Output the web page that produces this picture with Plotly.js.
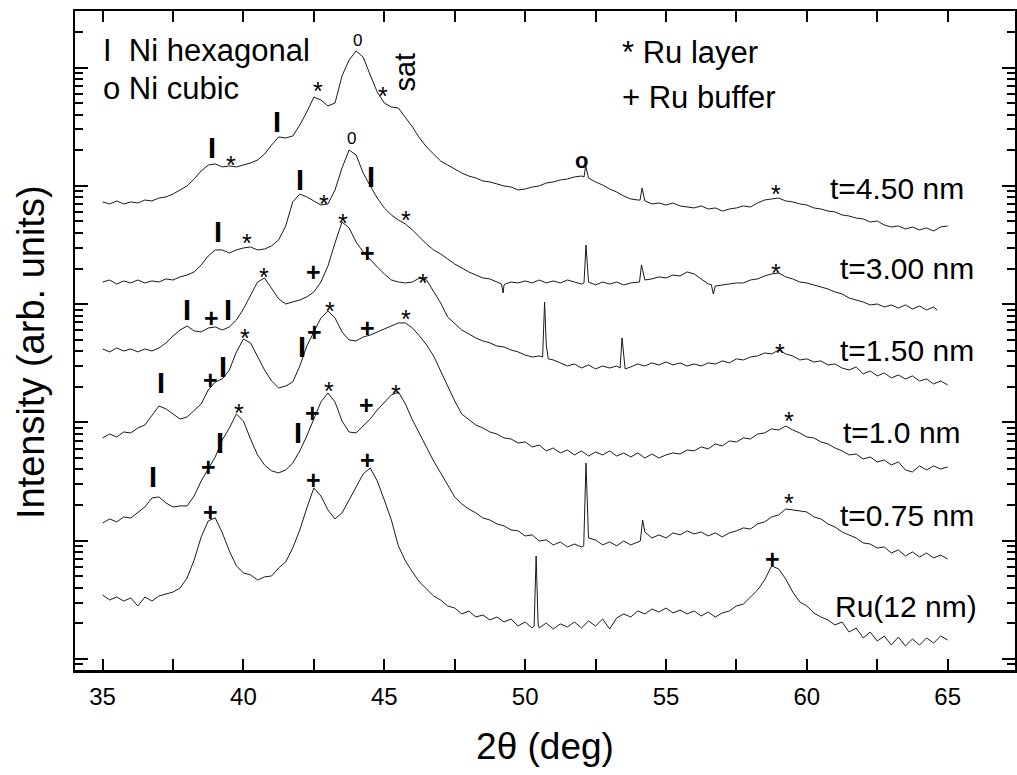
<!DOCTYPE html>
<html><head><meta charset="utf-8">
<script src="https://cdn.plot.ly/plotly-3.0.1.min.js"></script>
<style>html,body{margin:0;padding:0;background:#fff}</style>
</head><body><div id="chart" style="width:1017px;height:775px"></div>
<script>
// 2θ grid (deg)
const twoTheta = [
35,35.25,35.5,35.75,36,36.25,36.5,36.75,37,37.25,37.5,37.75,38,38.25,38.5,38.75,39,39.25,39.5,39.75,
40,40.25,40.5,40.75,41,41.25,41.5,41.75,42,42.25,42.5,42.75,43,43.25,43.5,43.75,44,44.25,44.5,44.75,
45,45.25,45.5,45.75,46,46.25,46.5,46.75,47,47.25,47.5,47.75,48,48.25,48.5,48.75,49,49.25,49.5,49.75,
50,50.25,50.5,50.75,51,51.25,51.5,51.75,52,52.25,52.5,52.75,53,53.25,53.5,53.75,54,54.25,54.5,54.75,
55,55.25,55.5,55.75,56,56.25,56.5,56.75,57,57.25,57.5,57.75,58,58.25,58.5,58.75,59,59.25,59.5,59.75,
60,60.25,60.5,60.75,61,61.25,61.5,61.75,62,62.25,62.5,62.75,63,63.25,63.5,63.75,64,64.25,64.5,64.75,
65];

// log10 of intensity (arb. units)
const logI_t450 = [
3.864,3.847,3.872,3.847,3.864,3.855,3.880,3.872,3.897,3.906,3.931,3.965,3.999,4.058,4.126,4.176,4.185,4.160,4.168,4.160,
4.176,4.193,4.218,4.269,4.345,4.413,4.405,4.421,4.514,4.624,4.751,4.726,4.675,4.700,4.929,5.064,5.140,5.089,4.937,4.793,
4.700,4.667,4.658,4.582,4.498,4.405,4.328,4.269,4.210,4.176,4.142,4.109,4.083,4.066,4.041,4.033,4.016,3.999,3.990,3.965,
3.973,3.990,3.999,4.024,4.033,4.050,4.058,4.075,4.083,4.066,4.033,4.007,3.973,3.948,3.914,3.889,3.880,3.872,3.847,3.855,
3.838,3.855,3.830,3.821,3.813,3.830,3.804,3.813,3.787,3.804,3.813,3.830,3.821,3.855,3.880,3.889,3.897,3.872,3.864,3.847,
3.838,3.813,3.804,3.787,3.779,3.754,3.745,3.728,3.720,3.694,3.703,3.669,3.652,3.661,3.635,3.652,3.627,3.644,3.618,3.652,
3.661];
const logI_t300 = [
3.187,3.204,3.170,3.196,3.179,3.204,3.179,3.196,3.187,3.213,3.204,3.230,3.246,3.272,3.331,3.407,3.458,3.458,3.432,3.458,
3.475,3.483,3.458,3.466,3.492,3.543,3.661,3.864,3.931,3.906,3.872,3.838,3.847,3.965,4.151,4.303,4.261,4.109,3.999,3.897,
3.813,3.754,3.711,3.677,3.627,3.567,3.508,3.458,3.424,3.382,3.339,3.306,3.272,3.246,3.221,3.213,3.187,3.162,3.187,3.179,
3.196,3.179,3.204,3.179,3.196,3.179,3.204,3.187,3.170,3.187,3.162,3.187,3.170,3.187,3.162,3.179,3.187,3.204,3.213,3.230,
3.221,3.246,3.238,3.272,3.255,3.213,3.170,3.153,3.162,3.170,3.179,3.179,3.204,3.213,3.238,3.255,3.263,3.230,3.213,3.187,
3.179,3.162,3.145,3.128,3.103,3.086,3.052,3.035,3.018,2.993,3.001,2.976,2.993,2.967,2.993,2.959,2.984,2.950,2.976,null,
null];
const logI_t150 = [
2.621,2.596,2.629,2.604,2.621,2.596,2.621,2.604,2.629,2.672,2.731,2.781,2.815,2.773,2.765,2.798,2.807,2.781,2.807,2.866,
2.959,3.069,3.187,3.221,3.128,3.044,3.001,3.018,3.035,3.061,3.103,3.187,3.323,3.517,3.694,3.644,3.525,3.441,3.373,3.314,
3.255,3.204,3.187,3.179,3.187,3.221,3.204,3.111,3.010,2.891,2.832,2.781,2.748,2.714,2.689,2.672,2.646,2.638,2.612,2.596,
2.570,2.553,2.562,2.655,2.528,2.503,2.477,2.494,2.460,2.486,2.452,2.477,2.460,2.477,2.570,2.469,2.494,2.477,2.503,2.486,
2.511,2.486,2.503,2.477,2.494,2.477,2.503,2.494,2.520,2.503,2.537,2.528,2.553,2.562,2.587,2.579,2.612,2.579,2.562,2.528,
2.537,2.511,2.520,2.486,2.494,2.460,2.443,2.469,2.410,2.435,2.393,2.418,2.376,2.401,2.367,2.393,2.350,2.367,2.325,2.350,
2.317];
const logI_t100 = [
1.869,1.902,1.877,1.919,1.911,1.953,1.978,2.054,2.139,2.114,2.071,2.029,2.046,2.105,2.156,2.274,2.342,2.367,2.443,2.596,
2.705,2.672,2.562,2.443,2.350,2.291,2.308,2.342,2.477,2.646,2.765,2.883,2.942,2.883,2.765,2.697,2.689,2.722,2.739,2.765,
2.790,2.815,2.841,2.841,2.798,2.731,2.655,2.562,2.435,2.308,2.181,2.071,2.021,1.978,1.953,1.919,1.902,1.869,1.860,1.826,
1.835,1.793,1.809,1.759,1.784,1.742,1.767,1.725,1.759,1.716,1.750,1.725,1.759,1.716,1.742,1.708,1.742,1.699,1.733,1.699,
1.725,1.742,1.733,1.767,1.759,1.793,1.776,1.818,1.801,1.843,1.835,1.869,1.860,1.902,1.911,1.945,1.936,1.970,1.936,1.911,
1.877,1.869,1.835,1.818,1.784,1.759,1.725,1.733,1.691,1.708,1.666,1.682,1.640,1.666,1.598,1.581,1.632,1.598,1.632,1.606,
1.623];
const logI_t075 = [
1.150,1.184,1.159,1.201,1.192,1.235,1.285,1.361,1.370,1.319,1.285,1.294,1.294,1.378,1.505,1.607,1.708,1.852,1.953,2.071,
2.012,1.860,1.725,1.640,1.590,1.573,1.598,1.657,1.759,1.886,2.029,2.173,2.249,2.173,2.012,1.919,1.911,1.970,2.029,2.105,
2.173,2.232,2.257,2.156,2.021,1.902,1.792,1.674,1.573,1.471,1.370,1.310,1.268,1.235,1.192,1.175,1.142,1.125,1.091,1.083,
1.040,1.049,0.998,1.007,0.964,0.990,0.947,0.972,0.947,1.023,1.007,0.964,0.990,0.956,0.998,0.964,0.990,1.074,1.023,1.049,
1.023,1.066,1.049,1.083,1.057,1.074,1.040,1.066,1.032,1.066,1.083,1.108,1.099,1.142,1.159,1.201,1.218,1.268,1.260,1.251,
1.243,1.201,1.184,1.142,1.116,1.074,1.049,1.023,0.981,0.972,0.938,0.947,0.896,0.922,0.871,0.905,0.862,0.896,0.854,0.879,
0.845];
const logI_Ru12 = [
0.541,0.499,0.524,0.490,0.516,0.448,0.524,0.490,0.533,0.550,0.566,0.600,0.685,0.837,1.032,1.167,1.193,1.066,0.913,0.787,
0.727,0.711,0.668,0.694,0.702,0.770,0.820,0.939,1.091,1.277,1.446,1.378,1.260,1.184,1.235,1.344,1.454,1.564,1.615,1.505,
1.344,1.176,0.956,0.829,0.736,0.651,0.592,0.533,0.499,0.448,0.431,0.381,0.406,0.355,0.372,0.330,0.355,0.313,0.338,0.279,
0.313,0.262,0.262,0.304,0.254,0.296,0.271,0.313,0.262,0.321,0.279,0.338,0.254,0.347,0.381,0.355,0.406,0.381,0.423,0.397,
0.431,0.389,0.414,0.381,0.406,0.364,0.397,0.355,0.389,0.406,0.448,0.465,0.524,0.583,0.668,0.787,0.761,0.676,0.566,0.482,
0.448,0.389,0.355,0.330,0.288,0.313,0.228,0.262,0.178,0.228,0.152,0.194,0.118,0.186,0.110,0.169,0.118,0.178,0.135,0.194,
0.161];

// sharp lines / glitches (2θ, log10 I) that fall between grid points
const sharp_t450 = [[52.09,4.075],[52.15,4.168],[54.08,3.880],[54.15,3.981]];
const sharp_t300 = [[49.16,3.170],[49.22,3.094],[49.29,3.170],[52.09,3.179],[52.16,3.500],[54.06,3.187],[54.13,3.331],
  [56.61,3.165],[56.68,3.086],[64.63,2.950]];
const sharp_t150 = [[50.62,2.553],[50.69,3.018],[50.82,2.537],[53.37,2.460],[53.44,2.714],[53.55,2.452]];
const sharp_t100 = [];
const sharp_t075 = [[52.08,0.956],[52.16,1.657],[54.09,0.998],[54.17,1.175]];
const sharp_Ru12 = [[50.32,0.279],[50.39,0.871],[50.46,0.296]];

const sampleNames = ['t=4.50 nm','t=3.00 nm','t=1.50 nm','t=1.0 nm','t=0.75 nm','Ru(12 nm)'];
// label anchor (left x in deg, log10 I)
const labelX = [60.79, 61.15, 61.15, 61.25, 61.15, 60.97];
const labelY = [3.981, 3.305, 2.612, 1.919, 1.217, 0.440];

// peak markers: [2θ, log10 I]
const hexMarks = [[38.90,4.319],[41.19,4.542],[39.10,3.612],[42.00,4.049],[44.54,4.077],[38.00,2.950],[39.45,2.950],
  [37.06,2.331],[39.28,2.471],[42.07,2.640],[36.79,1.541],[39.17,1.823],[41.94,1.908]];
const ruLayerMarks = [[39.57,4.227],[42.65,4.852],[44.95,4.810],[58.90,3.979],[40.11,3.570],[42.85,3.894],[45.78,3.762],[58.90,3.316],
  [40.72,3.282],[43.53,3.739],[46.37,3.232],[59.04,2.640],[40.07,2.767],[43.06,2.992],[45.76,2.922],[59.35,2.063],
  [39.84,2.133],[43.04,2.316],[45.43,2.291],[59.37,1.369]];
const ruBufferMarks = [[38.87,2.880],[42.47,3.274],[44.42,3.435],[38.83,2.358],[42.51,2.767],[44.42,2.795],
  [38.76,1.626],[42.45,2.077],[44.36,2.147],[38.83,1.245],[42.47,1.513],[44.42,1.682],[58.78,0.843]];
const zeroMarks = [[44.06,5.232],[43.83,4.401]];
const cubicMarks = [[51.99,4.218]];
const satMark = [45.72,4.962];

const FONT = '"Liberation Sans", Arial, Helvetica, sans-serif';
const X_RANGE = [34.02, 67.39];
const Y_RANGE = [-0.093, 5.478];

function build(vals, extras) {
  const pts = twoTheta.map((x, i) => [x, vals[i]]).concat(extras);
  pts.sort((a, b) => a[0] - b[0]);
  return {x: pts.map(p => p[0]), y: pts.map(p => p[1] === null ? null : Math.pow(10, p[1]))};
}
const allVals = [logI_t450, logI_t300, logI_t150, logI_t100, logI_t075, logI_Ru12];
const allSharp = [sharp_t450, sharp_t300, sharp_t150, sharp_t100, sharp_t075, sharp_Ru12];
// one curve sits on a twin y axis (identical scale) that carries the log minor ticks
const yAxisOf = ['y', 'y', 'y', 'y2', 'y', 'y'];

const traces = allVals.map((v, k) => {
  const s = build(v, allSharp[k]);
  return {x: s.x, y: s.y, type: 'scatter', mode: 'lines', name: sampleNames[k],
    xaxis: 'x', yaxis: yAxisOf[k],
    line: {color: '#1a1a1a', width: 1}, connectgaps: false};
});

// minor tick positions on the log axis (2..9 of each decade)
const minorY = [];
for (let d = -1; d <= 5; d++) for (let k = 2; k <= 9; k++) {
  const v = k * Math.pow(10, d);
  const l = Math.log10(v);
  if (l > Y_RANGE[0] && l < Y_RANGE[1]) minorY.push(v);
}

const ann = [];
function addText(txt, x, y, size, opts) {
  ann.push(Object.assign({text: txt, x: x, y: y, xref: 'x', yref: 'y', showarrow: false, borderpad: 0,
    font: {family: FONT, size: size, color: '#000'}, xanchor: 'center', yanchor: 'middle'}, opts || {}));
}
hexMarks.forEach(p => addText('<b>I</b>', p[0], p[1], 29));
ruLayerMarks.forEach(p => addText('*', p[0], p[1], 25, {yshift: -6}));
ruBufferMarks.forEach(p => addText('<b>+</b>', p[0], p[1], 25));
zeroMarks.forEach(p => addText('0', p[0], p[1], 17));
cubicMarks.forEach(p => addText('<b>o</b>', p[0], p[1], 22));
addText('sat', satMark[0], satMark[1], 29, {textangle: -90});
sampleNames.forEach((n, k) => addText(n, labelX[k], labelY[k], 30, {xanchor: 'left'}));
// key texts
addText('I  Ni hexagonal', 34.98, 5.148, 31, {xanchor: 'left'});
addText('o Ni cubic', 34.98, 4.827, 31, {xanchor: 'left'});
addText('* Ru layer', 53.41, 5.131, 31, {xanchor: 'left'});
addText('+ Ru buffer', 53.41, 4.751, 31, {xanchor: 'left'});
// y-axis title
ann.push({text: 'Intensity (arb. units)', xref: 'paper', yref: 'paper', x: -0.046, y: 0.482,
  textangle: -90, showarrow: false, xanchor: 'center', yanchor: 'middle',
  font: {family: FONT, size: 38, color: '#000'}});

const layout = {
  width: 1017, height: 775,
  margin: {l: 75, r: 2, t: 11, b: 105},
  paper_bgcolor: '#fff', plot_bgcolor: '#fff',
  font: {family: FONT, color: '#000'},
  showlegend: false,
  xaxis: {
    range: X_RANGE, tick0: 35, dtick: 5,
    ticks: 'inside', ticklen: 11, tickwidth: 2, tickcolor: '#000',
    minor: {ticks: 'inside', tick0: 35, dtick: 2.5, ticklen: 7, tickwidth: 2, tickcolor: '#000', showgrid: false},
    showline: true, linewidth: 2.5, linecolor: '#000', mirror: 'allticks',
    showgrid: false, zeroline: false, ticklabelstandoff: 4,
    tickfont: {family: FONT, size: 24, color: '#000'},
    title: {text: '2\u03b8 (deg)', font: {family: FONT, size: 37, color: '#000'}, standoff: 24},
    automargin: false
  },
  yaxis: {
    type: 'log', range: Y_RANGE, tick0: 0, dtick: 1,
    ticks: 'inside', ticklen: 13, tickwidth: 2, tickcolor: '#000',
    showticklabels: false,
    showline: true, linewidth: 2.5, linecolor: '#000', mirror: 'allticks',
    showgrid: false, zeroline: false,
    automargin: false
  },
  yaxis2: {
    overlaying: 'y', anchor: 'x', side: 'left', type: 'log', range: Y_RANGE, tickmode: 'array', tickvals: minorY,
    ticks: 'inside', ticklen: 8, tickwidth: 2, tickcolor: '#000', showticklabels: false,
    showline: false, mirror: 'ticks', showgrid: false, zeroline: false
  },
  annotations: ann
};
Plotly.newPlot('chart', traces, layout, {displayModeBar: false, staticPlot: true});
</script>
</body></html>
